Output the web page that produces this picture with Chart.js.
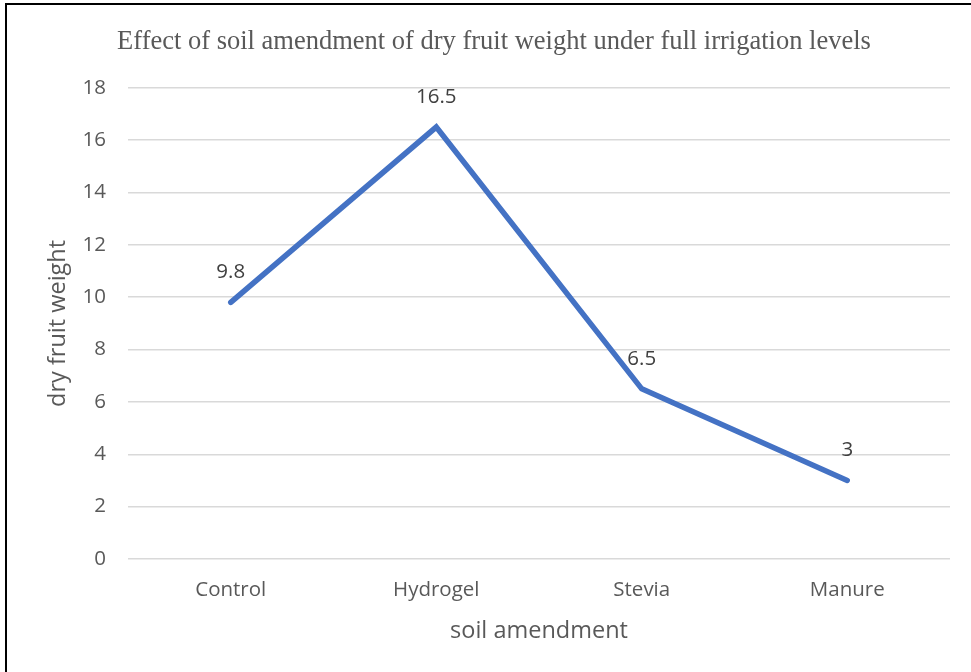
<!DOCTYPE html>
<html>
<head>
<meta charset="utf-8">
<script src="https://cdn.jsdelivr.net/npm/chart.js@4/dist/chart.umd.min.js"></script>
<style>
  html, body { margin: 0; padding: 0; background: #ffffff; width: 971px; height: 672px; overflow: hidden; }
  #wrap { position: absolute; left: 0; top: 0; width: 971px; height: 672px; }
  #frame { position: absolute; left: 5px; top: 3px; width: 1000px; height: 700px; border: 2px solid #000; box-sizing: border-box; pointer-events: none; }
  canvas { position: absolute; left: 0; top: 0; }
</style>
</head>
<body>
<div id="wrap">
  <canvas id="c" width="971" height="672"></canvas>
  <div id="frame"></div>
</div>
<script>
const categories = ["Control", "Hydrogel", "Stevia", "Manure"];
const dryFruitWeight = [9.8, 16.5, 6.5, 3];
const yTicks = [0, 2, 4, 6, 8, 10, 12, 14, 16, 18];
const chartTitle = "Effect of soil amendment of dry fruit weight under full irrigation levels";
const xTitle = "soil amendment";
const yTitle = "dry fruit weight";

const sansFont = "'Open Sans', 'Noto Sans', sans-serif";

const dataLabels = {
  id: 'dataLabels',
  afterDatasetsDraw(chart) {
    const ctx = chart.ctx;
    const meta = chart.getDatasetMeta(0);
    const ds = chart.data.datasets[0];
    ctx.save();
    ctx.font = "20.5px " + sansFont;
    ctx.fillStyle = "#404040";
    ctx.textAlign = "center";
    ctx.textBaseline = "middle";
    meta.data.forEach((pt, i) => {
      ctx.fillText(String(ds.data[i]), pt.x, pt.y - 30);
    });
    ctx.restore();
  }
};

new Chart(document.getElementById('c'), {
  type: 'line',
  data: {
    labels: categories,
    datasets: [{
      data: dryFruitWeight,
      borderColor: '#4472C4',
      backgroundColor: '#4472C4',
      borderWidth: 5.5,
      borderCapStyle: 'round',
      borderJoinStyle: 'miter',
      pointRadius: 0,
      pointHoverRadius: 0,
      tension: 0,
      fill: false
    }]
  },
  options: {
    responsive: false,
    animation: false,
    events: [],
    layout: { padding: { left: 38, right: 21, top: 0, bottom: 0 } },
    plugins: {
      legend: { display: false },
      tooltip: { enabled: false },
      title: {
        display: true,
        text: chartTitle,
        color: '#595959',
        font: { family: "'Liberation Serif', 'Times New Roman', serif", size: 26.5, weight: 'normal' },
        padding: { top: 26, bottom: 30 }
      }
    },
    scales: {
      x: {
        type: 'category',
        offset: true,
        grid: { display: false, drawTicks: false },
        border: { display: false },
        ticks: { color: '#595959', font: { family: sansFont, size: 20.5 }, padding: 19, maxRotation: 0 },
        title: { display: true, text: xTitle, color: '#595959', font: { family: sansFont, size: 23.5 }, padding: { top: 0, bottom: 26.5 } },
        afterFit(scale) { scale.height = 113; }
      },
      y: {
        min: 0,
        max: 18,
        afterBuildTicks(scale) { scale.ticks = yTicks.map(v => ({ value: v })); },
        grid: { color: '#d9d9d9', lineWidth: 1.5, drawTicks: false },
        border: { display: false },
        ticks: { color: '#595959', font: { family: sansFont, size: 20.5 }, padding: 22 },
        title: { display: true, text: yTitle, color: '#595959', font: { family: sansFont, size: 23.5 }, padding: { top: 6, bottom: 6 } },
        afterFit(scale) { scale.width = 90; }
      }
    }
  },
  plugins: [dataLabels]
});
</script>
</body>
</html>
